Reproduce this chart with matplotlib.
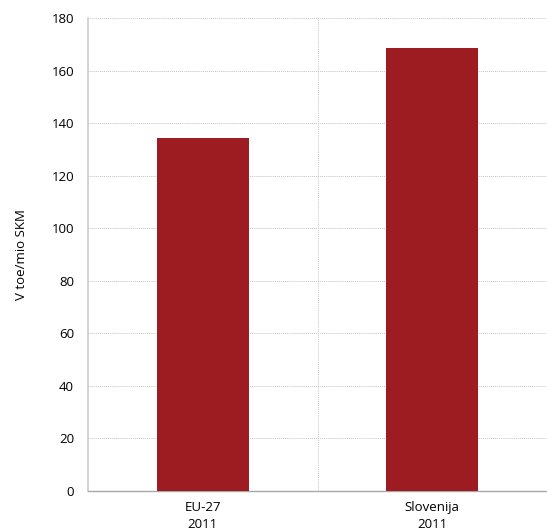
import matplotlib
matplotlib.use("Agg")
import matplotlib.pyplot as plt

categories = ["EU-27\n2011", "Slovenija\n2011"]
values = [134.3, 168.6]
yticks = [0, 20, 40, 60, 80, 100, 120, 140, 160, 180]

plt.rcParams['font.family'] = ['Open Sans', 'DejaVu Sans']

fig = plt.figure(figsize=(5.47, 5.32), dpi=100)
ax = fig.add_axes([0.161, 0.077, 0.839, 0.889])

x = list(range(len(categories)))
ax.bar(x, values, width=0.4, color="#9c1c21", zorder=3)

ax.set_xlim(-0.5, len(categories) - 0.5)
ax.set_ylim(0, 180)
ax.set_yticks(yticks)
ax.set_yticklabels([str(t) for t in yticks], fontsize=9.5)
ax.set_xticks(x)
ax.set_xticklabels(categories, fontsize=9.5, linespacing=1.45)
ax.tick_params(axis='y', length=0, pad=10)
ax.tick_params(axis='x', length=0, pad=7)

for t in yticks[1:]:
    ax.axhline(t, color="#c4c4c4", linestyle=(0, (1, 1)), linewidth=0.7, zorder=1)
ax.axvline(0.5, color="#c4c4c4", linestyle=(0, (1, 1)), linewidth=0.7, zorder=1)

for s in ["top", "right"]:
    ax.spines[s].set_visible(False)
ax.spines["left"].set_color("#cccccc")
ax.spines["bottom"].set_color("#a8a8a8")
ax.spines["left"].set_linewidth(1.2)
ax.spines["bottom"].set_linewidth(1.0)

ax.set_ylabel("V toe/mio SKM", fontsize=9.5, labelpad=17)

fig.savefig("out.png", dpi=100)
